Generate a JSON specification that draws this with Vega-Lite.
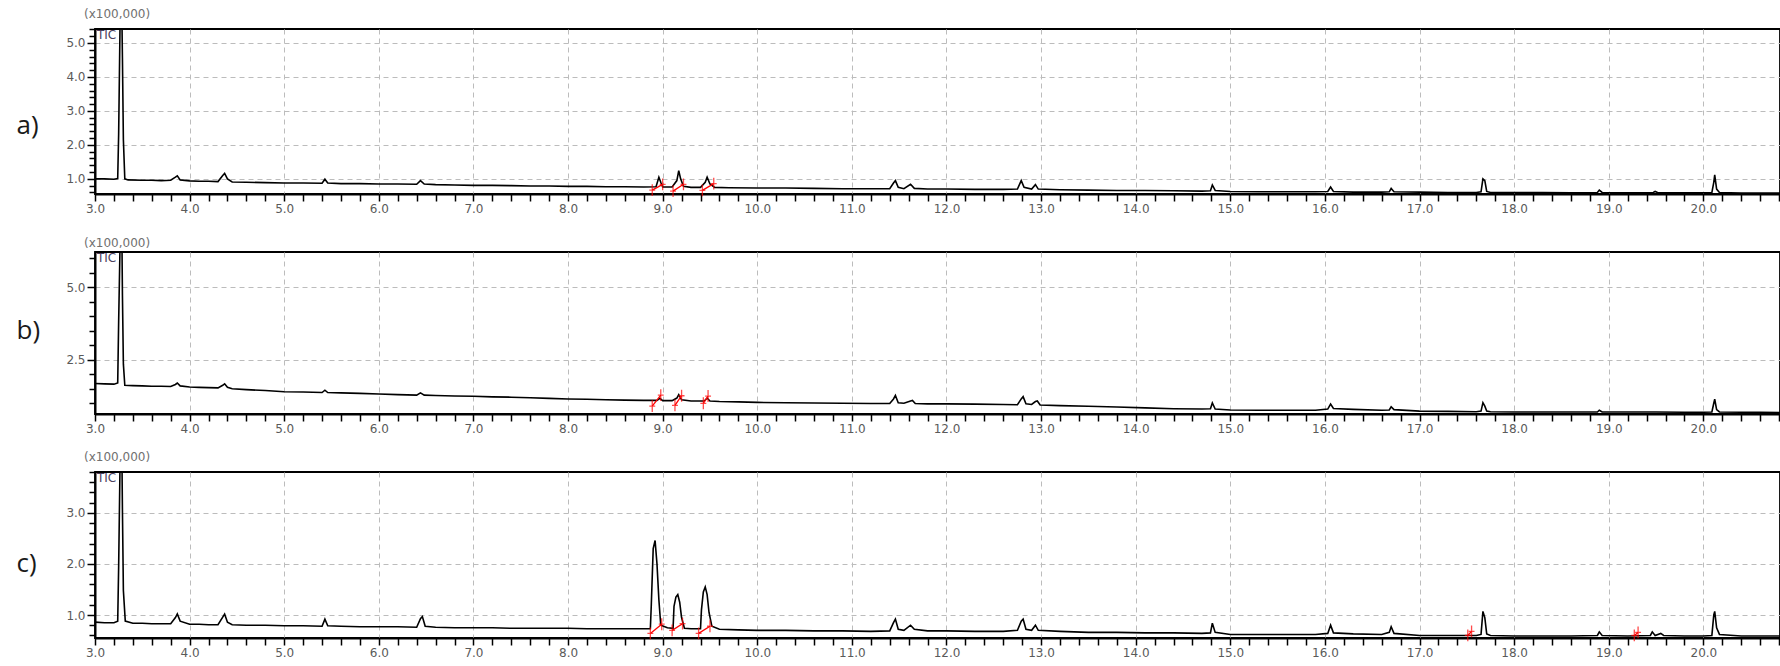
{
  "$schema": "https://vega.github.io/schema/vega-lite/v6.json",
  "padding": {"left": 15, "top": 7, "right": 0, "bottom": 0},
  "autosize": {"type": "pad"},
  "background": "white",
  "spacing": 58,
  "bounds": "flush",
  "config": {
    "view": {"stroke": "#000", "strokeWidth": 1.8},
    "axis": {
      "labelColor": "#5a5a5a", "labelFont": "DejaVu Sans", "labelFontSize": 12,
      "domainColor": "#000", "domainWidth": 2, "tickColor": "#000", "tickWidth": 1.5,
      "gridColor": "#bcbcbc", "gridDash": [5, 4], "gridWidth": 1,
      "labelFlush": false, "labelOverlap": false, "labelPadding": 2, "tickCount": 200
    },
    "title": {"font": "DejaVu Sans", "fontSize": 12, "fontWeight": "normal", "color": "#707070", "anchor": "start", "frame": "group", "dx": -11, "offset": 2}
  },
  "datasets": {
    "a": [
      {"t":3.0,"v":1.0},{"t":3.1,"v":1.0},{"t":3.2,"v":0.99},{"t":3.24,"v":1.01},{"t":3.25,"v":2.32},{"t":3.265,"v":5.6},{"t":3.285,"v":5.6},{"t":3.29,"v":4.55},{"t":3.3,"v":2.15},{"t":3.315,"v":1.0},{"t":3.35,"v":0.97},{"t":3.5,"v":0.96},{"t":3.6,"v":0.96},{"t":3.7,"v":0.95},{"t":3.8,"v":0.96},{"t":3.85,"v":1.05},{"t":3.87,"v":1.09},{"t":3.9,"v":0.97},{"t":4.0,"v":0.94},{"t":4.1,"v":0.93},{"t":4.2,"v":0.93},{"t":4.3,"v":0.92},{"t":4.35,"v":1.1},{"t":4.37,"v":1.16},{"t":4.4,"v":1.0},{"t":4.45,"v":0.91},{"t":4.6,"v":0.9},{"t":4.8,"v":0.89},{"t":5.0,"v":0.88},{"t":5.2,"v":0.88},{"t":5.4,"v":0.87},{"t":5.43,"v":0.99},{"t":5.46,"v":0.88},{"t":5.6,"v":0.86},{"t":5.8,"v":0.86},{"t":6.0,"v":0.85},{"t":6.2,"v":0.85},{"t":6.4,"v":0.84},{"t":6.44,"v":0.95},{"t":6.48,"v":0.85},{"t":6.6,"v":0.83},{"t":6.8,"v":0.82},{"t":7.0,"v":0.81},{"t":7.2,"v":0.81},{"t":7.4,"v":0.8},{"t":7.6,"v":0.79},{"t":7.8,"v":0.79},{"t":8.0,"v":0.78},{"t":8.2,"v":0.78},{"t":8.4,"v":0.77},{"t":8.6,"v":0.77},{"t":8.8,"v":0.76},{"t":8.93,"v":0.77},{"t":8.96,"v":1.05},{"t":8.98,"v":0.9},{"t":9.0,"v":0.76},{"t":9.1,"v":0.76},{"t":9.15,"v":0.95},{"t":9.17,"v":1.24},{"t":9.19,"v":1.0},{"t":9.22,"v":0.78},{"t":9.3,"v":0.75},{"t":9.4,"v":0.75},{"t":9.45,"v":0.9},{"t":9.47,"v":1.05},{"t":9.5,"v":0.85},{"t":9.55,"v":0.75},{"t":9.7,"v":0.74},{"t":10.0,"v":0.73},{"t":10.3,"v":0.73},{"t":10.6,"v":0.72},{"t":10.9,"v":0.71},{"t":11.2,"v":0.71},{"t":11.4,"v":0.71},{"t":11.44,"v":0.88},{"t":11.46,"v":0.95},{"t":11.49,"v":0.75},{"t":11.55,"v":0.71},{"t":11.62,"v":0.84},{"t":11.66,"v":0.72},{"t":11.8,"v":0.7},{"t":12.0,"v":0.7},{"t":12.3,"v":0.69},{"t":12.6,"v":0.69},{"t":12.75,"v":0.7},{"t":12.79,"v":0.95},{"t":12.82,"v":0.75},{"t":12.9,"v":0.7},{"t":12.94,"v":0.83},{"t":12.97,"v":0.7},{"t":13.2,"v":0.68},{"t":13.5,"v":0.67},{"t":13.8,"v":0.66},{"t":14.1,"v":0.66},{"t":14.4,"v":0.65},{"t":14.7,"v":0.64},{"t":14.79,"v":0.65},{"t":14.81,"v":0.82},{"t":14.84,"v":0.66},{"t":15.0,"v":0.63},{"t":15.3,"v":0.62},{"t":15.6,"v":0.62},{"t":15.9,"v":0.62},{"t":16.03,"v":0.63},{"t":16.06,"v":0.76},{"t":16.09,"v":0.63},{"t":16.3,"v":0.61},{"t":16.6,"v":0.61},{"t":16.68,"v":0.62},{"t":16.7,"v":0.72},{"t":16.73,"v":0.62},{"t":17.0,"v":0.61},{"t":17.3,"v":0.6},{"t":17.6,"v":0.6},{"t":17.65,"v":0.62},{"t":17.67,"v":1.0},{"t":17.69,"v":0.95},{"t":17.71,"v":0.63},{"t":17.75,"v":0.6},{"t":18.0,"v":0.6},{"t":18.3,"v":0.6},{"t":18.6,"v":0.59},{"t":18.88,"v":0.6},{"t":18.9,"v":0.67},{"t":18.93,"v":0.6},{"t":19.2,"v":0.59},{"t":19.47,"v":0.6},{"t":19.49,"v":0.63},{"t":19.52,"v":0.59},{"t":19.8,"v":0.59},{"t":20.0,"v":0.59},{"t":20.09,"v":0.6},{"t":20.11,"v":0.9},{"t":20.12,"v":1.12},{"t":20.14,"v":0.7},{"t":20.17,"v":0.6},{"t":20.4,"v":0.58},{"t":20.6,"v":0.58},{"t":20.81,"v":0.58}
    ],
    "b": [
      {"t":3.0,"v":1.68},{"t":3.1,"v":1.67},{"t":3.2,"v":1.66},{"t":3.24,"v":1.7},{"t":3.25,"v":3.82},{"t":3.265,"v":6.5},{"t":3.285,"v":6.5},{"t":3.29,"v":4.73},{"t":3.3,"v":2.35},{"t":3.315,"v":1.62},{"t":3.4,"v":1.61},{"t":3.5,"v":1.6},{"t":3.6,"v":1.59},{"t":3.7,"v":1.59},{"t":3.8,"v":1.58},{"t":3.85,"v":1.65},{"t":3.87,"v":1.7},{"t":3.9,"v":1.6},{"t":4.0,"v":1.56},{"t":4.1,"v":1.55},{"t":4.2,"v":1.54},{"t":4.3,"v":1.53},{"t":4.35,"v":1.62},{"t":4.37,"v":1.67},{"t":4.4,"v":1.55},{"t":4.45,"v":1.5},{"t":4.6,"v":1.47},{"t":4.8,"v":1.44},{"t":5.0,"v":1.4},{"t":5.2,"v":1.39},{"t":5.4,"v":1.37},{"t":5.43,"v":1.45},{"t":5.46,"v":1.37},{"t":5.6,"v":1.36},{"t":5.8,"v":1.34},{"t":6.0,"v":1.32},{"t":6.2,"v":1.3},{"t":6.4,"v":1.28},{"t":6.44,"v":1.36},{"t":6.48,"v":1.28},{"t":6.6,"v":1.27},{"t":6.8,"v":1.25},{"t":7.0,"v":1.24},{"t":7.2,"v":1.22},{"t":7.4,"v":1.21},{"t":7.6,"v":1.19},{"t":7.8,"v":1.17},{"t":8.0,"v":1.15},{"t":8.2,"v":1.14},{"t":8.4,"v":1.12},{"t":8.6,"v":1.11},{"t":8.8,"v":1.1},{"t":8.94,"v":1.1},{"t":8.97,"v":1.17},{"t":9.0,"v":1.09},{"t":9.1,"v":1.09},{"t":9.15,"v":1.18},{"t":9.17,"v":1.3},{"t":9.2,"v":1.12},{"t":9.3,"v":1.08},{"t":9.44,"v":1.08},{"t":9.47,"v":1.18},{"t":9.5,"v":1.08},{"t":9.6,"v":1.06},{"t":9.8,"v":1.05},{"t":10.0,"v":1.03},{"t":10.3,"v":1.02},{"t":10.6,"v":1.01},{"t":10.9,"v":1.0},{"t":11.2,"v":0.99},{"t":11.4,"v":0.99},{"t":11.44,"v":1.15},{"t":11.46,"v":1.27},{"t":11.49,"v":1.02},{"t":11.55,"v":1.0},{"t":11.62,"v":1.08},{"t":11.64,"v":1.1},{"t":11.67,"v":0.99},{"t":11.8,"v":0.98},{"t":12.0,"v":0.98},{"t":12.3,"v":0.97},{"t":12.6,"v":0.96},{"t":12.75,"v":0.95},{"t":12.79,"v":1.15},{"t":12.81,"v":1.23},{"t":12.84,"v":0.98},{"t":12.9,"v":0.96},{"t":12.94,"v":1.06},{"t":12.96,"v":1.08},{"t":12.99,"v":0.94},{"t":13.2,"v":0.92},{"t":13.5,"v":0.9},{"t":13.8,"v":0.87},{"t":14.1,"v":0.84},{"t":14.4,"v":0.81},{"t":14.7,"v":0.8},{"t":14.79,"v":0.81},{"t":14.81,"v":1.01},{"t":14.84,"v":0.8},{"t":15.0,"v":0.77},{"t":15.3,"v":0.76},{"t":15.6,"v":0.76},{"t":15.9,"v":0.76},{"t":16.03,"v":0.8},{"t":16.06,"v":0.97},{"t":16.09,"v":0.82},{"t":16.3,"v":0.79},{"t":16.6,"v":0.76},{"t":16.68,"v":0.77},{"t":16.7,"v":0.88},{"t":16.73,"v":0.78},{"t":17.0,"v":0.73},{"t":17.3,"v":0.72},{"t":17.6,"v":0.71},{"t":17.65,"v":0.73},{"t":17.67,"v":1.02},{"t":17.69,"v":0.9},{"t":17.71,"v":0.73},{"t":17.75,"v":0.71},{"t":18.0,"v":0.7},{"t":18.3,"v":0.7},{"t":18.6,"v":0.7},{"t":18.88,"v":0.7},{"t":18.9,"v":0.76},{"t":18.93,"v":0.7},{"t":19.2,"v":0.7},{"t":19.5,"v":0.7},{"t":19.8,"v":0.69},{"t":20.0,"v":0.69},{"t":20.09,"v":0.7},{"t":20.11,"v":1.0},{"t":20.12,"v":1.14},{"t":20.14,"v":0.78},{"t":20.17,"v":0.7},{"t":20.4,"v":0.69},{"t":20.6,"v":0.69},{"t":20.81,"v":0.68}
    ],
    "c": [
      {"t":3.0,"v":0.86},{"t":3.1,"v":0.85},{"t":3.2,"v":0.85},{"t":3.24,"v":0.88},{"t":3.25,"v":1.95},{"t":3.265,"v":4.0},{"t":3.285,"v":4.0},{"t":3.29,"v":3.05},{"t":3.3,"v":1.48},{"t":3.32,"v":0.88},{"t":3.4,"v":0.84},{"t":3.5,"v":0.84},{"t":3.6,"v":0.83},{"t":3.7,"v":0.83},{"t":3.8,"v":0.83},{"t":3.85,"v":0.95},{"t":3.87,"v":1.02},{"t":3.9,"v":0.88},{"t":4.0,"v":0.82},{"t":4.1,"v":0.82},{"t":4.2,"v":0.81},{"t":4.3,"v":0.81},{"t":4.35,"v":0.96},{"t":4.37,"v":1.02},{"t":4.4,"v":0.86},{"t":4.45,"v":0.81},{"t":4.6,"v":0.8},{"t":4.8,"v":0.8},{"t":5.0,"v":0.79},{"t":5.2,"v":0.79},{"t":5.4,"v":0.78},{"t":5.43,"v":0.92},{"t":5.46,"v":0.79},{"t":5.6,"v":0.78},{"t":5.8,"v":0.77},{"t":6.0,"v":0.77},{"t":6.2,"v":0.77},{"t":6.4,"v":0.76},{"t":6.44,"v":0.93},{"t":6.46,"v":0.97},{"t":6.49,"v":0.78},{"t":6.6,"v":0.76},{"t":6.8,"v":0.75},{"t":7.0,"v":0.75},{"t":7.2,"v":0.75},{"t":7.4,"v":0.74},{"t":7.6,"v":0.74},{"t":7.8,"v":0.74},{"t":8.0,"v":0.74},{"t":8.2,"v":0.73},{"t":8.4,"v":0.73},{"t":8.6,"v":0.73},{"t":8.8,"v":0.73},{"t":8.87,"v":0.73},{"t":8.88,"v":1.2},{"t":8.9,"v":2.3},{"t":8.92,"v":2.46},{"t":8.94,"v":2.0},{"t":8.96,"v":1.3},{"t":8.98,"v":0.8},{"t":9.05,"v":0.75},{"t":9.11,"v":0.74},{"t":9.12,"v":1.17},{"t":9.14,"v":1.35},{"t":9.16,"v":1.4},{"t":9.18,"v":1.25},{"t":9.2,"v":0.95},{"t":9.23,"v":0.74},{"t":9.3,"v":0.73},{"t":9.4,"v":0.73},{"t":9.41,"v":1.1},{"t":9.43,"v":1.45},{"t":9.45,"v":1.55},{"t":9.47,"v":1.4},{"t":9.49,"v":1.05},{"t":9.52,"v":0.78},{"t":9.6,"v":0.72},{"t":9.8,"v":0.71},{"t":10.0,"v":0.7},{"t":10.3,"v":0.7},{"t":10.6,"v":0.69},{"t":10.9,"v":0.69},{"t":11.2,"v":0.68},{"t":11.4,"v":0.69},{"t":11.44,"v":0.85},{"t":11.46,"v":0.92},{"t":11.49,"v":0.72},{"t":11.55,"v":0.7},{"t":11.62,"v":0.8},{"t":11.66,"v":0.72},{"t":11.8,"v":0.69},{"t":12.0,"v":0.69},{"t":12.3,"v":0.68},{"t":12.6,"v":0.68},{"t":12.75,"v":0.7},{"t":12.79,"v":0.88},{"t":12.81,"v":0.92},{"t":12.84,"v":0.72},{"t":12.9,"v":0.7},{"t":12.94,"v":0.8},{"t":12.97,"v":0.7},{"t":13.2,"v":0.68},{"t":13.5,"v":0.66},{"t":13.8,"v":0.66},{"t":14.1,"v":0.65},{"t":14.4,"v":0.65},{"t":14.7,"v":0.64},{"t":14.79,"v":0.65},{"t":14.81,"v":0.84},{"t":14.84,"v":0.66},{"t":15.0,"v":0.62},{"t":15.3,"v":0.62},{"t":15.6,"v":0.62},{"t":15.9,"v":0.62},{"t":16.03,"v":0.64},{"t":16.06,"v":0.8},{"t":16.09,"v":0.65},{"t":16.3,"v":0.63},{"t":16.6,"v":0.62},{"t":16.68,"v":0.66},{"t":16.7,"v":0.77},{"t":16.73,"v":0.64},{"t":17.0,"v":0.6},{"t":17.3,"v":0.6},{"t":17.6,"v":0.6},{"t":17.65,"v":0.62},{"t":17.67,"v":1.07},{"t":17.69,"v":0.95},{"t":17.71,"v":0.63},{"t":17.75,"v":0.6},{"t":18.0,"v":0.59},{"t":18.3,"v":0.59},{"t":18.6,"v":0.59},{"t":18.88,"v":0.6},{"t":18.9,"v":0.67},{"t":18.93,"v":0.6},{"t":19.2,"v":0.59},{"t":19.44,"v":0.6},{"t":19.46,"v":0.67},{"t":19.49,"v":0.6},{"t":19.55,"v":0.64},{"t":19.58,"v":0.6},{"t":19.8,"v":0.59},{"t":20.0,"v":0.59},{"t":20.09,"v":0.6},{"t":20.11,"v":1.0},{"t":20.12,"v":1.07},{"t":20.14,"v":0.75},{"t":20.17,"v":0.62},{"t":20.4,"v":0.59},{"t":20.6,"v":0.59},{"t":20.81,"v":0.59}
    ],
    "ma": [
      {"t1":8.89,"v1":0.67,"t2":9.0,"v2":0.84},
      {"t1":9.11,"v1":0.64,"t2":9.22,"v2":0.84},
      {"t1":9.42,"v1":0.66,"t2":9.54,"v2":0.86}
    ],
    "mb": [
      {"t1":8.89,"v1":0.9,"t2":8.98,"v2":1.28},
      {"t1":9.13,"v1":0.93,"t2":9.2,"v2":1.26},
      {"t1":9.43,"v1":1.0,"t2":9.48,"v2":1.25}
    ],
    "mc": [
      {"t1":8.87,"v1":0.64,"t2":8.99,"v2":0.82},
      {"t1":9.1,"v1":0.7,"t2":9.21,"v2":0.83},
      {"t1":9.38,"v1":0.64,"t2":9.5,"v2":0.78},
      {"t1":17.51,"v1":0.6,"t2":17.55,"v2":0.68},
      {"t1":19.27,"v1":0.6,"t2":19.31,"v2":0.66}
    ],
    "tic": [{"label": "TIC"}]
  },
  "vconcat": [
    {
      "width": 1685, "height": 165,
      "title": {"text": "(x100,000)"},
      "layer": [
        {
          "data": {"name": "a"},
          "mark": {"type": "line", "color": "#000", "strokeWidth": 1.6, "clip": true},
          "encoding": {
            "x": {"field": "t", "type": "quantitative", "scale": {"domain": [3.0, 20.81], "nice": false, "zero": false},
              "axis": {"title": null, "tickCount": 200, "values": [3,3.2,3.4,3.6,3.8,4,4.2,4.4,4.6,4.8,5,5.2,5.4,5.6,5.8,6,6.2,6.4,6.6,6.8,7,7.2,7.4,7.6,7.8,8,8.2,8.4,8.6,8.8,9,9.2,9.4,9.6,9.8,10,10.2,10.4,10.6,10.8,11,11.2,11.4,11.6,11.8,12,12.2,12.4,12.6,12.8,13,13.2,13.4,13.6,13.8,14,14.2,14.4,14.6,14.8,15,15.2,15.4,15.6,15.8,16,16.2,16.4,16.6,16.8,17,17.2,17.4,17.6,17.8,18,18.2,18.4,18.6,18.8,19,19.2,19.4,19.6,19.8,20,20.2,20.4,20.6,20.8],
                "labelExpr": "abs(datum.value - round(datum.value)) < 0.001 ? format(datum.value, '.1f') : ''",
                "gridOpacity": {"condition": {"test": "abs(datum.value - round(datum.value)) < 0.001 && datum.value > 3.5", "value": 1}, "value": 0},
                "tickSize": 7}},
            "y": {"field": "v", "type": "quantitative", "scale": {"domain": [0.555, 5.41], "nice": false, "zero": false},
              "axis": {"title": "a)", "tickCount": 200, "titleAngle": 0, "titleAlign": "left", "titleBaseline": "middle", "titleX": -79, "titleY": 96, "titleFontSize": 26, "titleFont": "Open Sans", "titleFontWeight": "normal", "titleColor": "#1a1a1a",
                "values": [0.6,0.8,1,1.2,1.4,1.6,1.8,2,2.2,2.4,2.6,2.8,3,3.2,3.4,3.6,3.8,4,4.2,4.4,4.6,4.8,5,5.2,5.4],
                "labelExpr": "abs(datum.value - round(datum.value)) < 0.001 ? format(datum.value, '.1f') : ''",
                "gridOpacity": {"condition": {"test": "abs(datum.value - round(datum.value)) < 0.001", "value": 1}, "value": 0},
                "tickSize": {"condition": {"test": "abs(datum.value - round(datum.value)) < 0.001", "value": 8}, "value": 6}}}
          }
        },
        {
          "data": {"name": "ma"},
          "mark": {"type": "rule", "color": "#ff0000", "strokeWidth": 1.3},
          "encoding": {"x": {"field": "t1", "type": "quantitative"}, "y": {"field": "v1", "type": "quantitative"}, "x2": {"field": "t2"}, "y2": {"field": "v2"}}
        },
        {
          "data": {"name": "ma"},
          "mark": {"type": "point", "shape": "M0,-1L0,1M-0.5,0L0.5,0", "size": 140, "stroke": "#ff0000", "strokeWidth": 1.3, "filled": false},
          "encoding": {"x": {"field": "t1", "type": "quantitative"}, "y": {"field": "v1", "type": "quantitative"}}
        },
        {
          "data": {"name": "ma"},
          "mark": {"type": "point", "shape": "M0,-1L0,1M-0.5,0L0.5,0", "size": 140, "stroke": "#ff0000", "strokeWidth": 1.3, "filled": false},
          "encoding": {"x": {"field": "t2", "type": "quantitative"}, "y": {"field": "v2", "type": "quantitative"}}
        },
        {
          "data": {"name": "tic"},
          "mark": {"type": "text", "align": "left", "baseline": "top", "dx": 2, "dy": 1, "font": "DejaVu Sans", "fontSize": 12, "color": "#4b3f5e"},
          "encoding": {"x": {"datum": 3.0}, "y": {"datum": 5.41}, "text": {"field": "label"}}
        }
      ]
    },
    {
      "width": 1685, "height": 162,
      "title": {"text": "(x100,000)"},
      "layer": [
        {
          "data": {"name": "b"},
          "mark": {"type": "line", "color": "#000", "strokeWidth": 1.6, "clip": true},
          "encoding": {
            "x": {"field": "t", "type": "quantitative", "scale": {"domain": [3.0, 20.81], "nice": false, "zero": false},
              "axis": {"title": null, "tickCount": 200, "values": [3,3.2,3.4,3.6,3.8,4,4.2,4.4,4.6,4.8,5,5.2,5.4,5.6,5.8,6,6.2,6.4,6.6,6.8,7,7.2,7.4,7.6,7.8,8,8.2,8.4,8.6,8.8,9,9.2,9.4,9.6,9.8,10,10.2,10.4,10.6,10.8,11,11.2,11.4,11.6,11.8,12,12.2,12.4,12.6,12.8,13,13.2,13.4,13.6,13.8,14,14.2,14.4,14.6,14.8,15,15.2,15.4,15.6,15.8,16,16.2,16.4,16.6,16.8,17,17.2,17.4,17.6,17.8,18,18.2,18.4,18.6,18.8,19,19.2,19.4,19.6,19.8,20,20.2,20.4,20.6,20.8],
                "labelExpr": "abs(datum.value - round(datum.value)) < 0.001 ? format(datum.value, '.1f') : ''",
                "gridOpacity": {"condition": {"test": "abs(datum.value - round(datum.value)) < 0.001 && datum.value > 3.5", "value": 1}, "value": 0},
                "tickSize": 7}},
            "y": {"field": "v", "type": "quantitative", "scale": {"domain": [0.63, 6.22], "nice": false, "zero": false},
              "axis": {"title": "b)", "tickCount": 200, "titleAngle": 0, "titleAlign": "left", "titleBaseline": "middle", "titleX": -79, "titleY": 78, "titleFontSize": 26, "titleFont": "Open Sans", "titleFontWeight": "normal", "titleColor": "#1a1a1a",
                "values": [1,1.5,2,2.5,3,3.5,4,4.5,5,5.5,6],
                "labelExpr": "abs(datum.value / 2.5 - round(datum.value / 2.5)) < 0.001 ? format(datum.value, '.1f') : ''",
                "gridOpacity": {"condition": {"test": "abs(datum.value / 2.5 - round(datum.value / 2.5)) < 0.001", "value": 1}, "value": 0},
                "tickSize": {"condition": {"test": "abs(datum.value / 2.5 - round(datum.value / 2.5)) < 0.001", "value": 8}, "value": 6}}}
          }
        },
        {
          "data": {"name": "mb"},
          "mark": {"type": "rule", "color": "#ff0000", "strokeWidth": 1.3},
          "encoding": {"x": {"field": "t1", "type": "quantitative"}, "y": {"field": "v1", "type": "quantitative"}, "x2": {"field": "t2"}, "y2": {"field": "v2"}}
        },
        {
          "data": {"name": "mb"},
          "mark": {"type": "point", "shape": "M0,-1L0,1M-0.5,0L0.5,0", "size": 140, "stroke": "#ff0000", "strokeWidth": 1.3, "filled": false},
          "encoding": {"x": {"field": "t1", "type": "quantitative"}, "y": {"field": "v1", "type": "quantitative"}}
        },
        {
          "data": {"name": "mb"},
          "mark": {"type": "point", "shape": "M0,-1L0,1M-0.5,0L0.5,0", "size": 140, "stroke": "#ff0000", "strokeWidth": 1.3, "filled": false},
          "encoding": {"x": {"field": "t2", "type": "quantitative"}, "y": {"field": "v2", "type": "quantitative"}}
        },
        {
          "data": {"name": "tic"},
          "mark": {"type": "text", "align": "left", "baseline": "top", "dx": 2, "dy": 1, "font": "DejaVu Sans", "fontSize": 12, "color": "#4b3f5e"},
          "encoding": {"x": {"datum": 3.0}, "y": {"datum": 6.22}, "text": {"field": "label"}}
        }
      ]
    },
    {
      "width": 1685, "height": 166,
      "title": {"text": "(x100,000)"},
      "layer": [
        {
          "data": {"name": "c"},
          "mark": {"type": "line", "color": "#000", "strokeWidth": 1.6, "clip": true},
          "encoding": {
            "x": {"field": "t", "type": "quantitative", "scale": {"domain": [3.0, 20.81], "nice": false, "zero": false},
              "axis": {"title": null, "tickCount": 200, "values": [3,3.2,3.4,3.6,3.8,4,4.2,4.4,4.6,4.8,5,5.2,5.4,5.6,5.8,6,6.2,6.4,6.6,6.8,7,7.2,7.4,7.6,7.8,8,8.2,8.4,8.6,8.8,9,9.2,9.4,9.6,9.8,10,10.2,10.4,10.6,10.8,11,11.2,11.4,11.6,11.8,12,12.2,12.4,12.6,12.8,13,13.2,13.4,13.6,13.8,14,14.2,14.4,14.6,14.8,15,15.2,15.4,15.6,15.8,16,16.2,16.4,16.6,16.8,17,17.2,17.4,17.6,17.8,18,18.2,18.4,18.6,18.8,19,19.2,19.4,19.6,19.8,20,20.2,20.4,20.6,20.8],
                "labelExpr": "abs(datum.value - round(datum.value)) < 0.001 ? format(datum.value, '.1f') : ''",
                "gridOpacity": {"condition": {"test": "abs(datum.value - round(datum.value)) < 0.001 && datum.value > 3.5", "value": 1}, "value": 0},
                "tickSize": 7}},
            "y": {"field": "v", "type": "quantitative", "scale": {"domain": [0.55, 3.8], "nice": false, "zero": false},
              "axis": {"title": "c)", "tickCount": 200, "titleAngle": 0, "titleAlign": "left", "titleBaseline": "middle", "titleX": -79, "titleY": 91, "titleFontSize": 26, "titleFont": "Open Sans", "titleFontWeight": "normal", "titleColor": "#1a1a1a",
                "values": [0.6,0.8,1,1.2,1.4,1.6,1.8,2,2.2,2.4,2.6,2.8,3,3.2,3.4,3.6,3.8],
                "labelExpr": "abs(datum.value - round(datum.value)) < 0.001 ? format(datum.value, '.1f') : ''",
                "gridOpacity": {"condition": {"test": "abs(datum.value - round(datum.value)) < 0.001", "value": 1}, "value": 0},
                "tickSize": {"condition": {"test": "abs(datum.value - round(datum.value)) < 0.001", "value": 8}, "value": 6}}}
          }
        },
        {
          "data": {"name": "mc"},
          "mark": {"type": "rule", "color": "#ff0000", "strokeWidth": 1.3},
          "encoding": {"x": {"field": "t1", "type": "quantitative"}, "y": {"field": "v1", "type": "quantitative"}, "x2": {"field": "t2"}, "y2": {"field": "v2"}}
        },
        {
          "data": {"name": "mc"},
          "mark": {"type": "point", "shape": "M0,-1L0,1M-0.5,0L0.5,0", "size": 140, "stroke": "#ff0000", "strokeWidth": 1.3, "filled": false},
          "encoding": {"x": {"field": "t1", "type": "quantitative"}, "y": {"field": "v1", "type": "quantitative"}}
        },
        {
          "data": {"name": "mc"},
          "mark": {"type": "point", "shape": "M0,-1L0,1M-0.5,0L0.5,0", "size": 140, "stroke": "#ff0000", "strokeWidth": 1.3, "filled": false},
          "encoding": {"x": {"field": "t2", "type": "quantitative"}, "y": {"field": "v2", "type": "quantitative"}}
        },
        {
          "data": {"name": "tic"},
          "mark": {"type": "text", "align": "left", "baseline": "top", "dx": 2, "dy": 1, "font": "DejaVu Sans", "fontSize": 12, "color": "#4b3f5e"},
          "encoding": {"x": {"datum": 3.0}, "y": {"datum": 3.8}, "text": {"field": "label"}}
        }
      ]
    }
  ]
}
